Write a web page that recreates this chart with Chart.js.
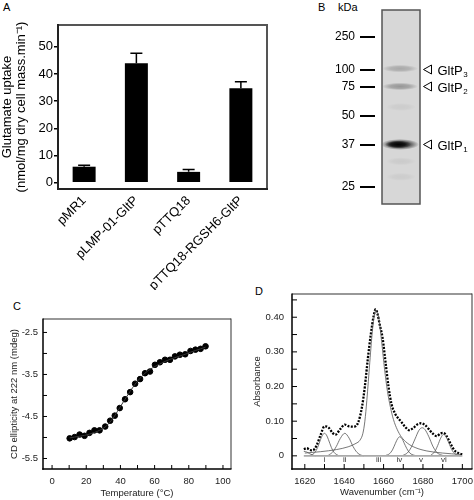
<!DOCTYPE html>
<html>
<head>
<meta charset="utf-8">
<script src="https://cdn.jsdelivr.net/npm/chart.js@4/dist/chart.umd.min.js"></script>
<style>
html, body { margin: 0; padding: 0; background: #fff; }
body { width: 474px; height: 500px; position: relative; overflow: hidden; font-family: "Liberation Sans", Arial, sans-serif; }
canvas { position: absolute; }
.tag { position: absolute; font-size: 11px; line-height: 1; color: #000; }
</style>
</head>
<body>
<div class="tag" style="left:3px;top:2px">A</div>
<div class="tag" style="left:318px;top:2px">B</div>
<div class="tag" style="left:338px;top:2px">kDa</div>
<div class="tag" style="left:13px;top:301px">C</div>
<div class="tag" style="left:255px;top:286px">D</div>

<canvas id="chartA" width="272" height="290" style="left:0;top:0"></canvas>
<canvas id="chartB" width="202" height="215" style="left:272px;top:0"></canvas>
<canvas id="chartC" width="240" height="210" style="left:0;top:290px"></canvas>
<canvas id="chartD" width="234" height="210" style="left:240px;top:290px"></canvas>

<script>
//
// Data
//

// A - glutamate uptake
var uptakeLabels = ['pMR1', 'pLMP-01-GltP', 'pTTQ18', 'pTTQ18-RGSH6-GltP'];
var uptakeValues = [5.9, 43.9, 4.0, 34.7];
var uptakeErrors = [0.5, 3.7, 0.9, 2.4];
var uptakeTicks = [0, 10, 20, 30, 40, 50];

// B - gel lane (migration as fraction of lane length)
var markerKDa = [250, 100, 75, 50, 37, 25];
var markerMigration = [0.139, 0.309, 0.397, 0.546, 0.696, 0.912];
var bandLabels = ['GltP', 'GltP', 'GltP'];
var bandSubs = ['3', '2', '1'];
var bandMigration = [0.302, 0.394, 0.693];
var bandIntensity = [0.22, 0.3, 0.95];
var smearMigration = [0.5, 0.78, 0.86];
var smearIntensity = [0.05, 0.06, 0.05];

// C - thermal melt
var cdTemp = [10.3, 13.2, 16.1, 19.0, 21.9, 24.8, 27.8, 31.1, 34.0, 36.7, 39.6, 42.7, 45.7, 48.6,
	51.5, 54.4, 57.3, 60.2, 63.1, 66.1, 69.0, 71.9, 74.8, 77.9, 81.0, 83.9, 86.9, 89.8];
var cdEllipticity = [-5.02, -4.99, -4.93, -4.96, -4.89, -4.83, -4.83, -4.74, -4.60, -4.48, -4.30, -4.09, -3.92, -3.72,
	-3.61, -3.47, -3.43, -3.27, -3.21, -3.15, -3.15, -3.07, -3.03, -3.02, -2.94, -2.91, -2.89, -2.83];
var cdFit = [-5.01, -4.99, -4.97, -4.95, -4.92, -4.88, -4.83, -4.75, -4.63, -4.48, -4.29, -4.09, -3.90, -3.73,
	-3.59, -3.47, -3.38, -3.31, -3.25, -3.19, -3.14, -3.10, -3.06, -3.02, -2.97, -2.93, -2.89, -2.85];
var cdXTicks = [0, 10, 20, 30, 40, 50, 60, 70, 80, 90, 100];
var cdXLabels = [0, 20, 40, 60, 80, 100];
var cdYTicks = [-2.5, -3, -3.5, -4, -4.5, -5, -5.5];
var cdYLabels = [-2.5, -3.5, -4.5, -5.5];

// D - FTIR amide I band
var irWave = [1619.5, 1621, 1622.5, 1624, 1626, 1628, 1630, 1632, 1634, 1635.5, 1638, 1640.3, 1642.5, 1645,
	1647, 1649, 1650.5, 1652, 1653.5, 1655, 1656, 1657, 1658, 1659.5, 1661, 1662.5, 1664, 1666, 1667.5,
	1669, 1671, 1673, 1675, 1677, 1679, 1681, 1683, 1685, 1687, 1689, 1690.5, 1692, 1694, 1696, 1698, 1700];
var irAbs = [0.019, 0.022, 0.017, 0.016, 0.030, 0.060, 0.085, 0.082, 0.067, 0.061, 0.077, 0.090, 0.085, 0.084,
	0.095, 0.140, 0.200, 0.280, 0.350, 0.405, 0.423, 0.408, 0.380, 0.340, 0.270, 0.200, 0.150, 0.120, 0.108,
	0.098, 0.083, 0.074, 0.080, 0.090, 0.094, 0.089, 0.077, 0.064, 0.057, 0.065, 0.066, 0.057, 0.035, 0.016, 0.008, 0.004];

var band0Wave = [1619.5, 1621, 1622.5, 1624, 1625.5];
var band0Abs = [0.013, 0.011, 0.006, 0.002, 0];
var bandIWave = [1623, 1625, 1626.5, 1628, 1629, 1630, 1631, 1632, 1633.5, 1635, 1637];
var bandIAbs = [0.001, 0.009, 0.024, 0.047, 0.060, 0.065, 0.060, 0.047, 0.024, 0.009, 0.001];
var bandIIWave = [1632, 1634, 1636, 1638, 1640.3, 1642.5, 1644.5, 1646.5, 1648.5, 1650];
var bandIIAbs = [0.002, 0.010, 0.027, 0.050, 0.065, 0.051, 0.027, 0.010, 0.002, 0];
var bandIIIWave = [1620, 1628, 1636, 1642, 1646, 1648, 1649.5, 1650.5, 1651.5, 1653, 1654.5, 1656, 1657.5,
	1659, 1660.5, 1662, 1663.5, 1665, 1667, 1669, 1672, 1676, 1682, 1690, 1699];
var bandIIIAbs = [0.008, 0.012, 0.018, 0.026, 0.036, 0.045, 0.065, 0.100, 0.160, 0.270, 0.370, 0.418, 0.400,
	0.330, 0.250, 0.185, 0.140, 0.105, 0.075, 0.055, 0.037, 0.024, 0.014, 0.008, 0.004];
var bandIVWave = [1661, 1663, 1664.5, 1666, 1667.2, 1668.2, 1669.5, 1671, 1672.5, 1674, 1676];
var bandIVAbs = [0.001, 0.006, 0.017, 0.036, 0.050, 0.055, 0.048, 0.030, 0.014, 0.005, 0.001];
var bandVWave = [1670, 1672, 1674, 1676, 1678, 1679.6, 1681, 1683, 1685, 1687, 1689, 1691];
var bandVAbs = [0.002, 0.008, 0.024, 0.049, 0.074, 0.081, 0.076, 0.055, 0.028, 0.010, 0.003, 0];
var bandVIWave = [1684, 1686, 1687.5, 1689, 1690.5, 1692, 1693.5, 1695, 1697, 1699];
var bandVIAbs = [0.002, 0.012, 0.030, 0.051, 0.062, 0.052, 0.032, 0.014, 0.003, 0];
var baseWave = [1619.5, 1700];
var baseAbs = [0, 0];

var bandNames = ['i', 'ii', 'iii', 'iv', 'v', 'vi'];
var bandCentres = [1630, 1640.3, 1657.5, 1668, 1679, 1690.6];

var irXTicks = [1620, 1630, 1640, 1650, 1660, 1670, 1680, 1690, 1700];
var irXLabels = [1620, 1640, 1660, 1680, 1700];
var irYTicks = [0, 0.05, 0.1, 0.15, 0.2, 0.25, 0.3, 0.35, 0.4, 0.45];
var irYLabels = [0, 0.1, 0.2, 0.3, 0.4];


//
// Helpers
//

var FONT = '"Liberation Sans", Arial, sans-serif';

function pairs(xs, ys) {
	return xs.map(function(x, i) { return { x: x, y: ys[i] }; });
}

function fixTicks(list) {
	return function(scale) {
		scale.ticks = list.map(function(v) { return { value: v }; });
	};
}

// force the axis box size and drop the label overhang padding
function fitWidth(w) {
	return function(s) { s.width = w; s.paddingTop = s.paddingBottom = s.paddingLeft = s.paddingRight = 0; };
}
function fitHeight(h) {
	return function(s) { s.height = h; s.paddingTop = s.paddingBottom = s.paddingLeft = s.paddingRight = 0; };
}

// Boxed axes for C and D: frame, inward ticks, labels and titles,
// all placed through the chart's own (hidden) x / y scales.
function boxAxesPlugin(o) {
	return {
		id: 'boxAxes',
		afterDatasetsDraw: function(chart) {
			var ctx = chart.ctx, xs = chart.scales.x, ys = chart.scales.y;
			var L = xs.getPixelForValue(xs.min), R = xs.getPixelForValue(xs.max);
			var T = ys.getPixelForValue(ys.max), B = ys.getPixelForValue(ys.min);
			ctx.save();
			// frame (thin grey top/right, black axes)
			ctx.fillStyle = '#333';
			ctx.fillRect(L, T - 0.5, R - L, 1);
			ctx.fillRect(R - 0.5, T - 0.5, 1, B - T + 0.5);
			ctx.fillStyle = '#000';
			ctx.fillRect(L - 0.75, T - 0.5, 1.5, B - T + 1.25);
			ctx.fillRect(L - 0.75, B - 0.75, R - L + 1.25, 1.5);
			// inward tick marks
			o.xTicks.forEach(function(v) {
				ctx.fillRect(xs.getPixelForValue(v) - 0.5, B - o.tickLen, 1, o.tickLen);
			});
			o.yTicks.forEach(function(v) {
				ctx.fillRect(L, ys.getPixelForValue(v) - 0.5, o.tickLen, 1);
			});
			// tick labels
			ctx.fillStyle = '#222';
			ctx.font = o.fontSize + 'px ' + FONT;
			ctx.textBaseline = 'middle';
			ctx.textAlign = 'center';
			o.xLabels.forEach(function(v) {
				ctx.fillText(o.xFormat(v), xs.getPixelForValue(v), B + o.xLabelGap);
			});
			ctx.textAlign = 'right';
			o.yLabels.forEach(function(v) {
				ctx.fillText(o.yFormat(v), L - o.yLabelGap, ys.getPixelForValue(v));
			});
			// axis titles
			ctx.textAlign = 'center';
			ctx.fillText(o.xTitle, (L + R) / 2, B + o.xTitleGap);
			ctx.translate(o.yTitleX, (T + B) / 2);
			ctx.rotate(-Math.PI / 2);
			ctx.fillText(o.yTitle, 0, 0);
			ctx.restore();
		}
	};
}

// soft smudge for gel bands (radial gradient)
function blob(ctx, cx, cy, rx, ry, alpha) {
	ctx.save();
	ctx.translate(cx, cy);
	ctx.scale(rx / ry, 1);
	var g = ctx.createRadialGradient(0, 0, 0, 0, 0, ry);
	g.addColorStop(0, 'rgba(0,0,0,' + alpha + ')');
	g.addColorStop(0.55, 'rgba(0,0,0,' + (alpha * 0.75) + ')');
	g.addColorStop(1, 'rgba(0,0,0,0)');
	ctx.fillStyle = g;
	ctx.beginPath();
	ctx.arc(0, 0, ry, 0, Math.PI * 2);
	ctx.fill();
	ctx.restore();
}


//
// A - bars with upper error bars
//

var errorBarsPlugin = {
	id: 'errorBars',
	afterDatasetsDraw: function(chart) {
		var ctx = chart.ctx, y = chart.scales.y, a = chart.chartArea;
		var meta = chart.getDatasetMeta(0);
		ctx.save();
		ctx.strokeStyle = '#000';
		ctx.lineWidth = 1.5;
		meta.data.forEach(function(bar, i) {
			var top = y.getPixelForValue(uptakeValues[i] + uptakeErrors[i]);
			ctx.beginPath();
			ctx.moveTo(bar.x, bar.y); ctx.lineTo(bar.x, top);
			ctx.moveTo(bar.x - 6, top); ctx.lineTo(bar.x + 6, top);
			ctx.stroke();
		});
		// frame: grey top and right, black axes
		ctx.lineCap = 'square';
		ctx.strokeStyle = '#555';
		ctx.lineWidth = 2;
		ctx.beginPath();
		ctx.moveTo(a.left, a.top); ctx.lineTo(a.right, a.top); ctx.lineTo(a.right, a.bottom);
		ctx.stroke();
		ctx.strokeStyle = '#222';
		ctx.beginPath();
		ctx.moveTo(a.left, a.top); ctx.lineTo(a.left, a.bottom); ctx.lineTo(a.right, a.bottom);
		ctx.stroke();
		ctx.restore();
	}
};

new Chart(document.getElementById('chartA'), {
	type: 'bar',
	data: {
		labels: uptakeLabels,
		datasets: [{
			data: uptakeValues,
			backgroundColor: '#000',
			barPercentage: 0.44,
			categoryPercentage: 1
		}]
	},
	options: {
		responsive: false,
		animation: false,
		layout: { padding: { top: 25, right: 5, left: 0, bottom: 0 } },
		plugins: { legend: { display: false }, tooltip: { enabled: false } },
		scales: {
			x: {
				grid: { display: false, drawTicks: false },
				border: { display: false },
				ticks: { color: '#000', font: { family: FONT, size: 13 }, minRotation: 45, maxRotation: 45, padding: 4, autoSkip: false },
				afterFit: fitHeight(101)
			},
			y: {
				min: -2.3,
				max: 58,
				afterBuildTicks: fixTicks(uptakeTicks),
				grid: { display: true, drawOnChartArea: false, tickLength: 4, color: '#000', lineWidth: 1.5 },
				border: { display: false },
				ticks: { color: '#000', font: { family: FONT, size: 13 }, padding: 1 },
				title: {
					display: true,
					text: ['Glutamate uptake', '(nmol/mg dry cell mass.min\u207B\u00B9)'],
					color: '#000',
					font: { family: FONT, size: 13, lineHeight: 1.1 },
					padding: { top: 0, bottom: 0 }
				},
				afterFit: fitWidth(58)
			}
		}
	},
	plugins: [errorBarsPlugin]
});


//
// C - CD ellipticity vs temperature
//

new Chart(document.getElementById('chartC'), {
	type: 'scatter',
	data: {
		datasets: [{
			type: 'line',
			data: pairs(cdTemp, cdFit),
			borderColor: '#333',
			borderWidth: 1,
			pointRadius: 0,
			cubicInterpolationMode: 'monotone'
		}, {
			data: pairs(cdTemp, cdEllipticity),
			backgroundColor: '#000',
			borderColor: '#000',
			pointRadius: 2.8
		}]
	},
	options: {
		responsive: false,
		animation: false,
		layout: { padding: { top: 29, right: 9, left: 43, bottom: 31 } },
		plugins: { legend: { display: false }, tooltip: { enabled: false } },
		scales: {
			x: { type: 'linear', display: false, min: -5.3, max: 104.7 },
			y: { type: 'linear', display: false, min: -5.75, max: -2.18 }
		}
	},
	plugins: [boxAxesPlugin({
		xTicks: cdXTicks, yTicks: cdYTicks, xLabels: cdXLabels, yLabels: cdYLabels,
		xFormat: function(v) { return String(v); },
		yFormat: function(v) { return v.toFixed(1); },
		tickLen: 4, fontSize: 9.5,
		xLabelGap: 12.5, yLabelGap: 5,
		xTitle: 'Temperature (\u00B0C)', xTitleGap: 24.5,
		yTitle: 'CD ellipticity at 222 nm (mdeg)', yTitleX: 14
	})]
});


//
// D - FTIR spectrum with fitted components
//

var romanPlugin = {
	id: 'roman',
	afterDatasetsDraw: function(chart) {
		var ctx = chart.ctx, x = chart.scales.x, y = chart.scales.y;
		ctx.save();
		ctx.fillStyle = '#333';
		ctx.font = '8px ' + FONT;
		ctx.textAlign = 'center';
		ctx.textBaseline = 'middle';
		bandNames.forEach(function(n, i) {
			ctx.fillText(n, x.getPixelForValue(bandCentres[i]), y.getPixelForValue(-0.0105));
		});
		ctx.restore();
	}
};

function component(xs, ys) {
	return {
		data: pairs(xs, ys),
		borderColor: '#555',
		borderWidth: 0.8,
		pointRadius: 0,
		cubicInterpolationMode: 'monotone'
	};
}

new Chart(document.getElementById('chartD'), {
	type: 'line',
	data: {
		datasets: [
			{ data: pairs(baseWave, baseAbs), borderColor: '#aaa', borderWidth: 1.6, pointRadius: 0 },
			component(band0Wave, band0Abs),
			component(bandIWave, bandIAbs),
			component(bandIIWave, bandIIAbs),
			component(bandIIIWave, bandIIIAbs),
			component(bandIVWave, bandIVAbs),
			component(bandVWave, bandVAbs),
			component(bandVIWave, bandVIAbs),
			{
				data: pairs(irWave, irAbs),
				borderColor: '#000',
				borderWidth: 2.3,
				borderDash: [2, 1.4],
				pointRadius: 0,
				cubicInterpolationMode: 'monotone'
			}
		]
	},
	options: {
		responsive: false,
		animation: false,
		layout: { padding: { top: 4, right: 2, left: 52, bottom: 31 } },
		plugins: { legend: { display: false }, tooltip: { enabled: false } },
		scales: {
			x: { type: 'linear', display: false, min: 1613.5, max: 1704.9 },
			y: { type: 'linear', display: false, min: -0.038, max: 0.467 }
		}
	},
	plugins: [romanPlugin, boxAxesPlugin({
		xTicks: irXTicks, yTicks: irYTicks, xLabels: irXLabels, yLabels: irYLabels,
		xFormat: function(v) { return String(v); },
		yFormat: function(v) { return v === 0 ? '0' : v.toFixed(2); },
		tickLen: 5, fontSize: 9.5,
		xLabelGap: 12.5, yLabelGap: 8,
		xTitle: 'Wavenumber (cm\u207B\u00B9)', xTitleGap: 23.5,
		yTitle: 'Absorbance', yTitleX: 17
	})]
});


//
// B - SDS-PAGE lane
//

var gelPlugin = {
	id: 'gel',
	beforeDatasetsDraw: function(chart) {
		var a = chart.chartArea, ctx = chart.ctx, y = chart.scales.y;
		var left = a.left + 7, right = a.right, mid = (left + right) / 2;
		ctx.save();
		ctx.fillStyle = '#d7d7d7';
		ctx.fillRect(left, a.top, right - left, a.bottom - a.top);

		smearMigration.forEach(function(m, i) {
			blob(ctx, mid, y.getPixelForValue(m), 15, 4, smearIntensity[i]);
		});
		chart.getDatasetMeta(0).data.forEach(function(pt, i) {
			var k = bandIntensity[i];
			if (k > 0.5) {
				blob(ctx, mid - 1, pt.y, 19, 5.5, 0.75);
				blob(ctx, mid - 3, pt.y, 13, 3.8, 0.95);
			} else {
				blob(ctx, mid - 1, pt.y, 18, 3.8, k);
			}
		});

		ctx.strokeStyle = '#555';
		ctx.lineWidth = 1.5;
		ctx.strokeRect(left, a.top, right - left, a.bottom - a.top);
		ctx.restore();
	},
	afterDatasetsDraw: function(chart) {
		var a = chart.chartArea, ctx = chart.ctx;
		ctx.save();
		ctx.fillStyle = '#000';
		ctx.strokeStyle = '#000';
		ctx.lineWidth = 1;
		chart.getDatasetMeta(0).data.forEach(function(pt, i) {
			var x0 = a.right + 3.5, yc = Math.round(pt.y) + 0.5;
			ctx.beginPath();
			ctx.moveTo(x0, yc); ctx.lineTo(x0 + 8, yc - 4.5); ctx.lineTo(x0 + 8, yc + 4.5); ctx.closePath();
			ctx.stroke();
			ctx.textBaseline = 'alphabetic';
			ctx.font = '13px ' + FONT;
			ctx.fillText(bandLabels[i], x0 + 14, yc + 5);
			var w = ctx.measureText(bandLabels[i]).width;
			ctx.font = '8px ' + FONT;
			ctx.fillText(bandSubs[i], x0 + 14 + w + 0.5, yc + 7.5);
		});
		ctx.restore();
	}
};

new Chart(document.getElementById('chartB'), {
	type: 'scatter',
	data: {
		datasets: [{
			data: bandMigration.map(function(m) { return { x: 0.5, y: m }; }),
			pointRadius: 0
		}]
	},
	options: {
		responsive: false,
		animation: false,
		layout: { padding: { top: 10, right: 54, left: 0, bottom: 11 } },
		plugins: { legend: { display: false }, tooltip: { enabled: false } },
		scales: {
			x: { display: false, min: 0, max: 1 },
			y: {
				min: 0,
				max: 1,
				reverse: true,
				afterBuildTicks: fixTicks(markerMigration),
				grid: { display: true, drawOnChartArea: false, tickLength: 15, color: '#000', lineWidth: 2 },
				border: { display: false },
				ticks: {
					color: '#000',
					font: { family: FONT, size: 12 },
					padding: 5,
					autoSkip: false,
					callback: function(v, i) { return markerKDa[i]; }
				},
				afterFit: fitWidth(103)
			}
		}
	},
	plugins: [gelPlugin]
});
</script>
</body>
</html>
